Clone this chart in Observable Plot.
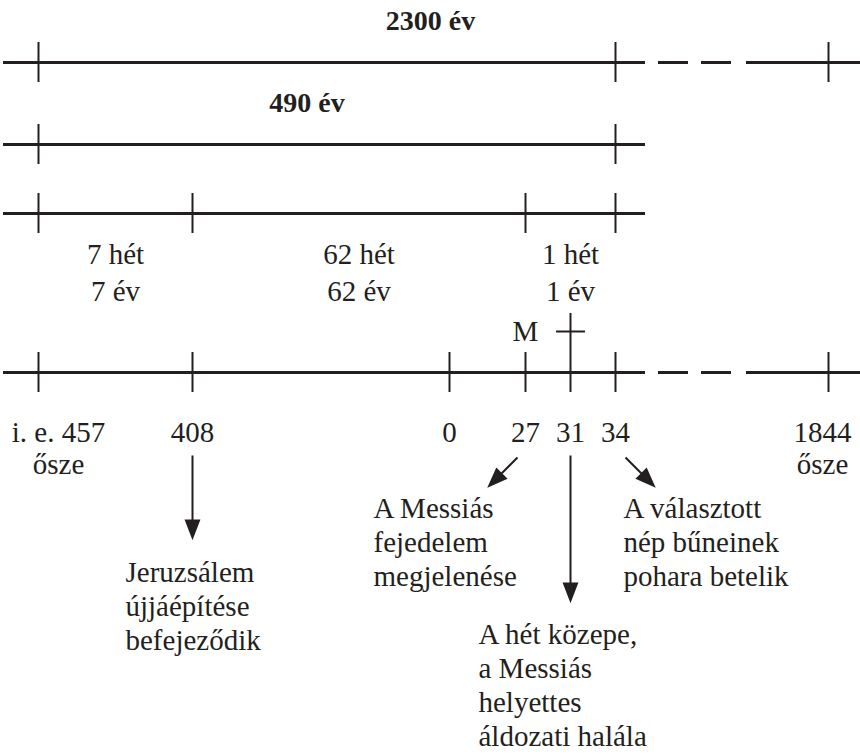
<!DOCTYPE html>
<html><head><meta charset="utf-8">
<script src="https://cdn.jsdelivr.net/npm/d3@7"></script>
<script src="https://cdn.jsdelivr.net/npm/@observablehq/plot@0.6"></script>
<style>
html,body{margin:0;padding:0;background:#fff}
#chart svg{display:block}
#chart svg text{font-family:"Liberation Serif","DejaVu Serif",serif !important}
</style>
</head><body><div id="chart"></div>
<script>
// ---------- DATA ----------
const tickYears = [-457, -408, 0, 27, 31, 34, 1844];
const tickLabels = ["i. e. 457", "408", "0", "27", "31", "34", "1844"];
const autumnYears = [-457, 1844];
const autumnLabel = "ősze";
const periodLabels = ["2300 év", "490 év"];
const periodStart = [-457, -457];
const periodEnd = [1844, 34];
const weekLabels = ["7 hét", "62 hét", "1 hét"];
const weekYearLabels = ["7 év", "62 év", "1 év"];
const weekBounds = [-457, -408, 27, 34];
const messiahYear = 27;
const messiahLabel = "M";
const crossYear = 31;
const eventYears = [-408, 27, 31, 34];
const eventTexts = [
  ["Jeruzsálem", "újjáépítése", "befejeződik"],
  ["A Messiás", "fejedelem", "megjelenése"],
  ["A hét közepe,", "a Messiás", "helyettes", "áldozati halála"],
  ["A választott", "nép bűneinek", "pohara betelik"]
];

// ---------- LAYOUT / STYLE ----------
const INK = "#231f20";
const FONT = "Liberation Serif";
const FS = 29;
const LINE = 34;
const X_DOMAIN = [-480, -457, -408, 0, 27, 31, 34, 1844, 1880];
const X_RANGE  = [3, 38, 192, 449, 525, 570, 615, 828, 860];
const ROW_Y = {r2300: 62, r490: 144, rWeeks: 213, rMain: 372};
const TICK_HALF = 20;
const periodText = [{y: 21, nudge: -3}, {y: 103, nudge: -20}];
const weekTextY = [254, 291];
const yearLabelY = 432, autumnY = 464, mY = 331;
const yearNudge = {"-457": 20, "1844": -6};
const cross = {top: 313, bottom: ROW_Y.rMain + TICK_HALF, barY: 331, left: -14, right: 15};
const eventLayout = [
  {dx: 0,  y: 455, len: 82,  rot: 180, tdx: -67,  ty: 572},
  {dx: -8, y: 457, len: 40,  rot: 225, tdx: -152, ty: 508},
  {dx: 0,  y: 455, len: 145, rot: 180, tdx: -92,  ty: 634},
  {dx: 10, y: 457, len: 40,  rot: 135, tdx: 8,    ty: 508}
];

const xs = d3.scaleLinear(X_DOMAIN, X_RANGE);
const shift = (yr, px) => xs.invert(xs(yr) + px);
const midYear = (a, b) => xs.invert((xs(a) + xs(b)) / 2);

const rows = [
  {key: "r2300", long: true,  ticks: [periodStart[0], periodEnd[1], periodEnd[0]]},
  {key: "r490",  long: false, ticks: [periodStart[1], periodEnd[1]]},
  {key: "rWeeks",long: false, ticks: weekBounds},
  {key: "rMain", long: true,  ticks: tickYears.filter(y => y !== crossYear)}
];
const tickData = rows.flatMap(r => r.ticks.map(x => ({x, y: ROW_Y[r.key]})));

const periods = periodLabels.map((label, i) => ({
  label, x: shift(midYear(periodStart[i], periodEnd[i]), periodText[i].nudge), y: periodText[i].y
}));
const weeks = weekLabels.map((label, i) => ({
  label, sub: weekYearLabels[i], x: midYear(weekBounds[i], weekBounds[i + 1])
}));
const years = tickYears.map((y, i) => ({x: shift(y, yearNudge[y] ?? 0), label: tickLabels[i]}));
const autumn = autumnYears.map(y => ({x: shift(y, yearNudge[y] ?? 0), label: autumnLabel}));
const events = eventYears.map((year, i) => ({year, ...eventLayout[i]}));
const eventLines = eventYears.flatMap((year, i) => eventTexts[i].map((t, j) => ({
  x: shift(year, eventLayout[i].tdx), y: eventLayout[i].ty + j * LINE, text: t
})));

const arrowShape = {
  draw(c, l) {
    const h = 17, w = 6.5;
    c.moveTo(0, 0); c.lineTo(0, -(l - h + 1));
    c.moveTo(0, -l); c.lineTo(-w, -(l - h)); c.lineTo(w, -(l - h)); c.closePath();
  }
};
const textOpts = {fontFamily: FONT, fontSize: FS, fill: INK};

const chart = Plot.plot({
  width: 860, height: 754,
  marginTop: 0, marginRight: 0, marginBottom: 0, marginLeft: 0,
  style: {fontFamily: FONT, fontSize: FS + "px", background: "#fff"},
  x: {type: "linear", domain: X_DOMAIN, range: X_RANGE, axis: null},
  y: {type: "identity", axis: null},
  marks: [
    Plot.ruleY(rows, {y: d => ROW_Y[d.key], x1: X_DOMAIN[0], x2: periodEnd[1], stroke: INK, strokeWidth: 3}),
    Plot.ruleY(rows.filter(d => d.long), {y: d => ROW_Y[d.key], x1: periodEnd[1], x2: periodEnd[0],
      stroke: INK, strokeWidth: 3, strokeDasharray: "30,13,30,13,30,15,400"}),
    Plot.ruleY(rows.filter(d => d.long), {y: d => ROW_Y[d.key], x1: periodEnd[0], x2: X_DOMAIN[X_DOMAIN.length - 1],
      stroke: INK, strokeWidth: 3}),
    Plot.ruleY(rows.filter(d => !d.long), {y: d => ROW_Y[d.key], x1: periodEnd[1], x2: shift(periodEnd[1], 30),
      stroke: INK, strokeWidth: 3}),
    Plot.ruleX(tickData, {x: "x", y1: d => d.y - TICK_HALF, y2: d => d.y + TICK_HALF, stroke: INK, strokeWidth: 2}),
    Plot.ruleX([crossYear], {x: d => d, y1: cross.top, y2: cross.bottom, stroke: INK, strokeWidth: 2}),
    Plot.ruleY([crossYear], {y: cross.barY, x1: d => shift(d, cross.left), x2: d => shift(d, cross.right), stroke: INK, strokeWidth: 2}),
    Plot.text(periods, {x: "x", y: "y", text: "label", ...textOpts, fontSize: 28, fontWeight: "bold"}),
    Plot.text(weeks, {x: "x", y: weekTextY[0], text: "label", ...textOpts}),
    Plot.text(weeks, {x: "x", y: weekTextY[1], text: "sub", ...textOpts}),
    Plot.text([messiahYear], {x: d => d, y: mY, text: () => messiahLabel, ...textOpts}),
    Plot.text(years, {x: "x", y: yearLabelY, text: "label", ...textOpts}),
    Plot.text(autumn, {x: "x", y: autumnY, text: "label", ...textOpts}),
    ...events.map(e => Plot.vector([e], {x: "year", y: "y", dx: e.dx, length: e.len, rotate: e.rot,
      anchor: "start", shape: arrowShape, stroke: INK, fill: INK, strokeWidth: 2, strokeLinecap: "butt", strokeLinejoin: "miter"})),
    Plot.text(eventLines, {x: "x", y: "y", text: "text", textAnchor: "start", ...textOpts})
  ]
});
document.getElementById("chart").appendChild(chart);
</script>
</body></html>
